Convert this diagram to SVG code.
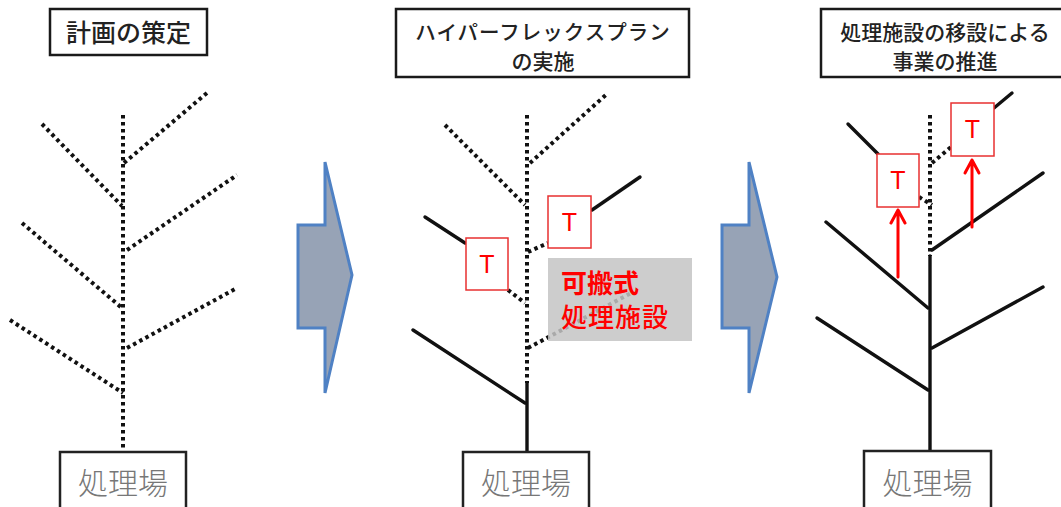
<svg xmlns="http://www.w3.org/2000/svg" width="1061" height="507" viewBox="0 0 1061 507">
<defs>
<style>
.title{fill:#fff;stroke:#1a1a1a;stroke-width:2.5}
.tt{font-family:"Noto Sans CJK JP","Liberation Sans",sans-serif;fill:#222;text-anchor:middle;font-weight:500}
.dot{stroke:#111;stroke-width:4;stroke-dasharray:3.5 3.5;fill:none}
.sol{stroke:#111;stroke-width:3.4;fill:none;stroke-linecap:round}
.base{fill:#fff;stroke:#222;stroke-width:2.5}
.bt{font-family:"Noto Sans CJK JP",sans-serif;font-size:30px;fill:#777;text-anchor:middle;font-weight:300}
.tb{fill:#fff;stroke:#e83030;stroke-width:1.5}
.tl{font-family:"Liberation Sans",Arial,sans-serif;font-size:25px;fill:#f00;text-anchor:middle}
.blk{fill:#97a3b6;stroke:#4f81c4;stroke-width:3;stroke-linejoin:miter}
.red{stroke:#f00;stroke-width:3;fill:none;stroke-linecap:round;stroke-linejoin:round}
</style>
</defs>
<rect width="1061" height="507" fill="#fff"/>

<g id="panel1-title"><rect class="title" x="50" y="9" width="157" height="46"/><text class="tt" x="128.5" y="42" font-size="25">計画の策定</text></g>
<g id="panel2-title"><rect class="title" x="396" y="9" width="293" height="68"/><text class="tt" x="543" y="40" font-size="20.5" letter-spacing="1">ハイパーフレックスプラン</text><text class="tt" x="543" y="69" font-size="21">の実施</text></g>
<g id="panel3-title"><rect class="title" x="821" y="9" width="245" height="68"/><text class="tt" x="945" y="40" font-size="21">処理施設の移設による</text><text class="tt" x="945" y="69" font-size="21">事業の推進</text></g>

<g id="connectors">
<!-- panel 1 -->
<line class="dot" x1="123" y1="115" x2="123" y2="452"/>
<line class="dot" x1="42" y1="124" x2="122" y2="206"/>
<line class="dot" x1="124" y1="163" x2="207" y2="93"/>
<line class="dot" x1="22" y1="223" x2="122" y2="308"/>
<line class="dot" x1="127" y1="250" x2="237" y2="175"/>
<line class="dot" x1="10" y1="320" x2="123" y2="393"/>
<line class="dot" x1="127" y1="348" x2="237" y2="288"/>
<!-- panel 2 -->
<line class="dot" x1="527" y1="115" x2="527" y2="383"/>
<line class="sol" x1="527" y1="383" x2="527" y2="452"/>
<line class="dot" x1="445" y1="125" x2="525" y2="205"/>
<line class="dot" x1="530" y1="163" x2="608" y2="93"/>
<line class="sol" x1="592" y1="210" x2="640" y2="177"/>
<line class="dot" x1="528" y1="252" x2="548" y2="243"/>
<line class="sol" x1="425" y1="217" x2="465" y2="243"/>
<line class="dot" x1="508" y1="290" x2="525" y2="303"/>
<line class="dot" x1="528" y1="348" x2="633" y2="292"/>
<line class="sol" x1="413" y1="330" x2="525" y2="403"/>
<!-- panel 3 -->
<line class="dot" x1="930" y1="115" x2="930" y2="256"/>
<line class="sol" x1="930" y1="256" x2="930" y2="452"/>
<line class="sol" x1="994" y1="108" x2="1012" y2="93"/>
<line class="dot" x1="932" y1="163" x2="951" y2="147"/>
<line class="sol" x1="848" y1="124" x2="878" y2="154"/>
<line class="dot" x1="919" y1="197" x2="932" y2="205"/>
<line class="sol" x1="932" y1="250" x2="1043" y2="173"/>
<line class="sol" x1="826" y1="222" x2="928" y2="308"/>
<line class="sol" x1="932" y1="348" x2="1043" y2="287"/>
<line class="sol" x1="817" y1="318" x2="928" y2="390"/>
<path class="red" d="M898 277 V210 M891 223 L898 210 L905 223"/>
<path class="red" d="M972 227 V160 M965 173 L972 160 L979 173"/>
</g>

<g id="portable-facility"><rect x="548" y="258" width="144" height="83" fill="#c4c4c4" opacity="0.85"/><text font-family="Noto Sans CJK JP,sans-serif" font-size="26" font-weight="700" fill="#f00" x="561" y="293">可搬式</text><text font-family="Noto Sans CJK JP,sans-serif" font-size="26" font-weight="500" fill="#f00" x="561" y="327" letter-spacing="1">処理施設</text></g>

<g id="t2a"><rect class="tb" x="466" y="238" width="42" height="52"/><text class="tl" x="487" y="273">T</text></g>
<g id="t2b"><rect class="tb" x="548" y="196" width="43" height="52"/><text class="tl" x="569.5" y="231">T</text></g>
<g id="t3a"><rect class="tb" x="877" y="154" width="42" height="53"/><text class="tl" x="898" y="189">T</text></g>
<g id="t3b"><rect class="tb" x="951" y="103" width="43" height="53"/><text class="tl" x="972.5" y="138">T</text></g>

<g id="base1"><rect class="base" x="60" y="452" width="126" height="60"/><text class="bt" x="123" y="494">処理場</text></g>
<g id="base2"><rect class="base" x="463" y="452" width="126" height="60"/><text class="bt" x="526" y="494">処理場</text></g>
<g id="base3"><rect class="base" x="864" y="451" width="127" height="60"/><text class="bt" x="927.5" y="494">処理場</text></g>

<g id="arrow1"><path class="blk" d="M298 225 H325 V162 L352 275 L325 393 V328 H298 Z"/></g>
<g id="arrow2"><path class="blk" d="M722 225 H749 V162 L777 277 L749 393 V328 H722 Z"/></g>
</svg>
